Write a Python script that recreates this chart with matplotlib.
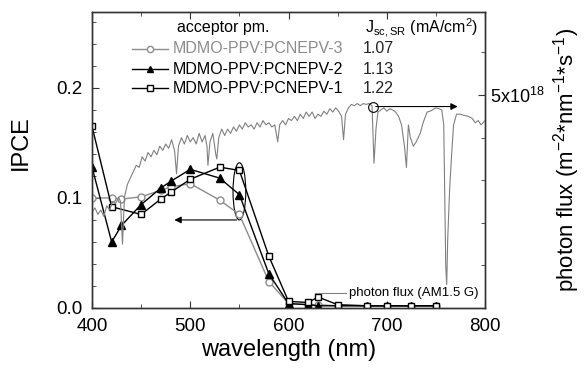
import numpy as np
import matplotlib
matplotlib.use('Agg')
import matplotlib.pyplot as plt
from matplotlib.patches import Ellipse
from matplotlib.ticker import MultipleLocator, FixedLocator, FixedFormatter

plt.rcParams['font.family'] = ['Liberation Sans', 'DejaVu Sans']
plt.rcParams['mathtext.fontset'] = 'custom'
plt.rcParams['mathtext.rm'] = 'Liberation Sans'
plt.rcParams['mathtext.it'] = 'Liberation Sans:italic'

# IPCE-Daten
wl_a = [400, 420, 430, 450, 470, 480, 500, 530, 550, 580, 600, 620, 630, 650, 680, 700, 725, 750]
ipce_3 = [0.100, 0.100, 0.099, 0.101, 0.107, 0.110, 0.113, 0.098, 0.085, 0.024, 0.004,
          0.003, 0.003, 0.002, 0.002, 0.002, 0.002, 0.002]
ipce_2 = [0.128, 0.060, 0.075, 0.094, 0.109, 0.115, 0.126, 0.118, 0.103, 0.031, 0.004,
          0.003, 0.002, 0.002, 0.002, 0.002, 0.002, 0.002]
wl_b = [400, 420, 450, 470, 480, 500, 530, 550, 580, 600, 620, 630, 650, 680, 700, 725, 750]
ipce_1 = [0.165, 0.092, 0.085, 0.099, 0.105, 0.117, 0.128, 0.125, 0.047, 0.006,
          0.005, 0.010, 0.003, 0.002, 0.002, 0.002, 0.002]

labels = ['MDMO-PPV:PCNEPV-3', 'MDMO-PPV:PCNEPV-2', 'MDMO-PPV:PCNEPV-1']
jsc = ['1.07', '1.13', '1.22']

# Photonenfluss AM1.5G, Einheit 1e18
wl_f = [400, 403, 406, 409, 412, 415, 418, 421, 424, 427, 429, 431, 433, 436, 439, 442,
        445, 448, 451, 454, 457, 460, 463, 466, 469, 472, 475, 478, 481, 484, 486, 488,
        491, 494, 497, 500, 503, 506, 509, 512, 515, 517, 518, 520, 523, 526, 527, 529,
        532, 535, 538, 541, 544, 547, 550, 553, 556, 559, 562, 565, 568, 571, 574, 577,
        580, 583, 586, 589, 591, 594, 597, 600, 603, 606, 609, 612, 615, 618, 621, 624,
        627, 630, 633, 636, 639, 642, 645, 648, 651, 654, 656, 658, 661, 664, 667, 670,
        673, 676, 679, 682, 685, 687, 689, 691, 694, 697, 700, 703, 706, 709, 712, 715,
        718, 720, 722, 724, 727, 730, 734, 737, 741, 744, 747, 750, 753, 756, 758, 760,
        761, 762, 764, 766, 768, 771, 775, 779, 783, 787, 790, 793, 796, 800]
flux = [2.25, 2.35, 2.2, 2.3, 2.15, 2.4, 2.3, 2.5, 2.45, 2.6, 2.5, 1.5, 2.6, 2.9, 3.05, 3.2,
        3.35, 3.3, 3.55, 3.45, 3.65, 3.55, 3.7, 3.6, 3.8, 3.7, 3.85, 3.75, 3.95, 3.7, 3.15, 3.8,
        4.0, 3.85, 4.05, 3.9, 4.0, 3.85, 4.1, 3.9, 4.05, 3.8, 3.35, 3.9, 4.1, 3.6, 3.5, 4.0,
        4.2, 4.05, 4.2, 4.1, 4.25, 4.15, 4.3, 4.2, 4.35, 4.25, 4.3, 4.2, 4.35, 4.25, 4.4, 4.3,
        4.35, 4.25, 4.3, 3.9, 4.3, 4.4, 4.3, 4.45, 4.4, 4.5, 4.4, 4.55, 4.45, 4.6, 4.5, 4.6,
        4.45, 4.55, 4.5, 4.62, 4.55, 4.68, 4.6, 4.7, 4.62, 4.5, 3.95, 4.55, 4.7, 4.78, 4.75, 4.8,
        4.75, 4.8, 4.78, 4.8, 4.75, 3.4, 4.2, 4.6, 4.65, 4.7, 4.62, 4.68, 4.65, 4.6, 4.5, 4.3,
        3.8, 3.3, 4.3, 4.0, 3.8, 3.9, 4.1, 4.35, 4.6, 4.62, 4.66, 4.7, 4.68, 4.65, 4.3, 1.0,
        0.55, 1.6, 2.8, 3.6, 4.3, 4.55, 4.55, 4.52, 4.5, 4.45, 4.35, 4.4, 4.3, 4.4]

grau = '#8c8c8c'

fig = plt.figure(figsize=(5.85, 3.7), dpi=100)
ax = fig.add_axes([0.1573, 0.1676, 0.6718, 0.8])
ax2 = ax.twinx()

l3, = ax.plot(wl_a, ipce_3, '-o', color=grau, mfc='white', mec=grau, ms=5, lw=1.0)
l2, = ax.plot(wl_a, ipce_2, '-^', color='black', mfc='black', ms=5.5, lw=1.0)
l1, = ax.plot(wl_b, ipce_1, '-s', color='black', mfc='white', ms=5, lw=1.0)

ax2.plot(wl_f, flux, color='#808080', lw=0.8)

ax.set_xlim(400, 800)
ax.set_ylim(0, 0.269)
ax2.set_ylim(0, 6.95)

ax.xaxis.set_major_locator(MultipleLocator(100))
ax.xaxis.set_minor_locator(MultipleLocator(50))
ax.yaxis.set_major_locator(FixedLocator([0.0, 0.1, 0.2]))
ax.yaxis.set_major_formatter(FixedFormatter(['0.0', '0.1', '0.2']))
ax.yaxis.set_minor_locator(MultipleLocator(0.02))
ax2.yaxis.set_major_locator(FixedLocator([5]))
ax2.yaxis.set_major_formatter(FixedFormatter(['5x10$^{18}$']))
ax2.yaxis.set_minor_locator(MultipleLocator(1))

ax.tick_params(which='both', direction='in', top=True, right=False, labelsize=13.5, color='#333333')
ax.tick_params(which='major', length=5)
ax.tick_params(which='minor', length=3)
ax.tick_params(axis='x', pad=7)
ax.tick_params(axis='y', pad=7)
ax2.tick_params(which='both', direction='in', labelsize=13, color='#333333')
ax2.tick_params(which='major', length=5)
ax2.tick_params(which='minor', length=3)
for a in (ax, ax2):
    for s in a.spines.values():
        s.set_color('#333333')
        s.set_linewidth(1.0)

ax.set_xlabel('wavelength (nm)', fontsize=17, labelpad=3)
ax.set_ylabel('IPCE', fontsize=17)
ax.yaxis.set_label_coords(-0.153, 0.56)
ax2.set_ylabel('photon flux (m$^{-2}$*nm$^{-1}$*s$^{-1}$)', fontsize=16)
ax2.yaxis.set_label_coords(1.168, 0.5)

# Ellipse um die 550-nm-Punkte und Pfeile
ax.add_patch(Ellipse((550, 0.106), 13, 0.052, fill=False, ec='black', lw=0.8))
ax.annotate('', xy=(481, 0.080), xytext=(550, 0.080),
            arrowprops=dict(arrowstyle='-|>', color='black', lw=0.8, mutation_scale=10))
ax2.plot([686], [4.73], 'o', mfc='none', mec='black', ms=7, mew=0.8)
ax2.annotate('', xy=(775, 4.73), xytext=(686, 4.73),
             arrowprops=dict(arrowstyle='-|>', color='black', lw=0.8, mutation_scale=10))

# Legende von Hand
ax.text(0.216, 0.949, 'acceptor pm.', transform=ax.transAxes, fontsize=11.5, va='center')
ax.text(0.695, 0.949, 'J$_\\mathrm{sc,SR}$ (mA/cm$^\\mathrm{2}$)', transform=ax.transAxes,
        fontsize=11.5, va='center')
rows_y = [0.875, 0.807, 0.743]
handles = [l3, l2, l1]
txt_col = [grau, 'black', 'black']
for h, lab, j, yy, c in zip(handles, labels, jsc, rows_y, txt_col):
    ax.plot([0.102, 0.193], [yy, yy], transform=ax.transAxes, color=h.get_color(), lw=1.0)
    ax.plot([0.148], [yy], transform=ax.transAxes, marker=h.get_marker(), color=h.get_color(),
            mfc=h.get_markerfacecolor(), mec=h.get_markeredgecolor(), ms=4.5)
    ax.text(0.206, yy, lab, transform=ax.transAxes, fontsize=11.5, va='center', color=c)
    ax.text(0.69, yy, j, transform=ax.transAxes, fontsize=11.5, va='center', color='#222222')

ax2.plot([0.568, 0.645], [0.05, 0.05], transform=ax.transAxes, color='#808080', lw=0.8)
ax2.text(0.653, 0.05, 'photon flux (AM1.5 G)', transform=ax.transAxes, fontsize=9.5, va='center')

fig.savefig('out.png', dpi=100)
